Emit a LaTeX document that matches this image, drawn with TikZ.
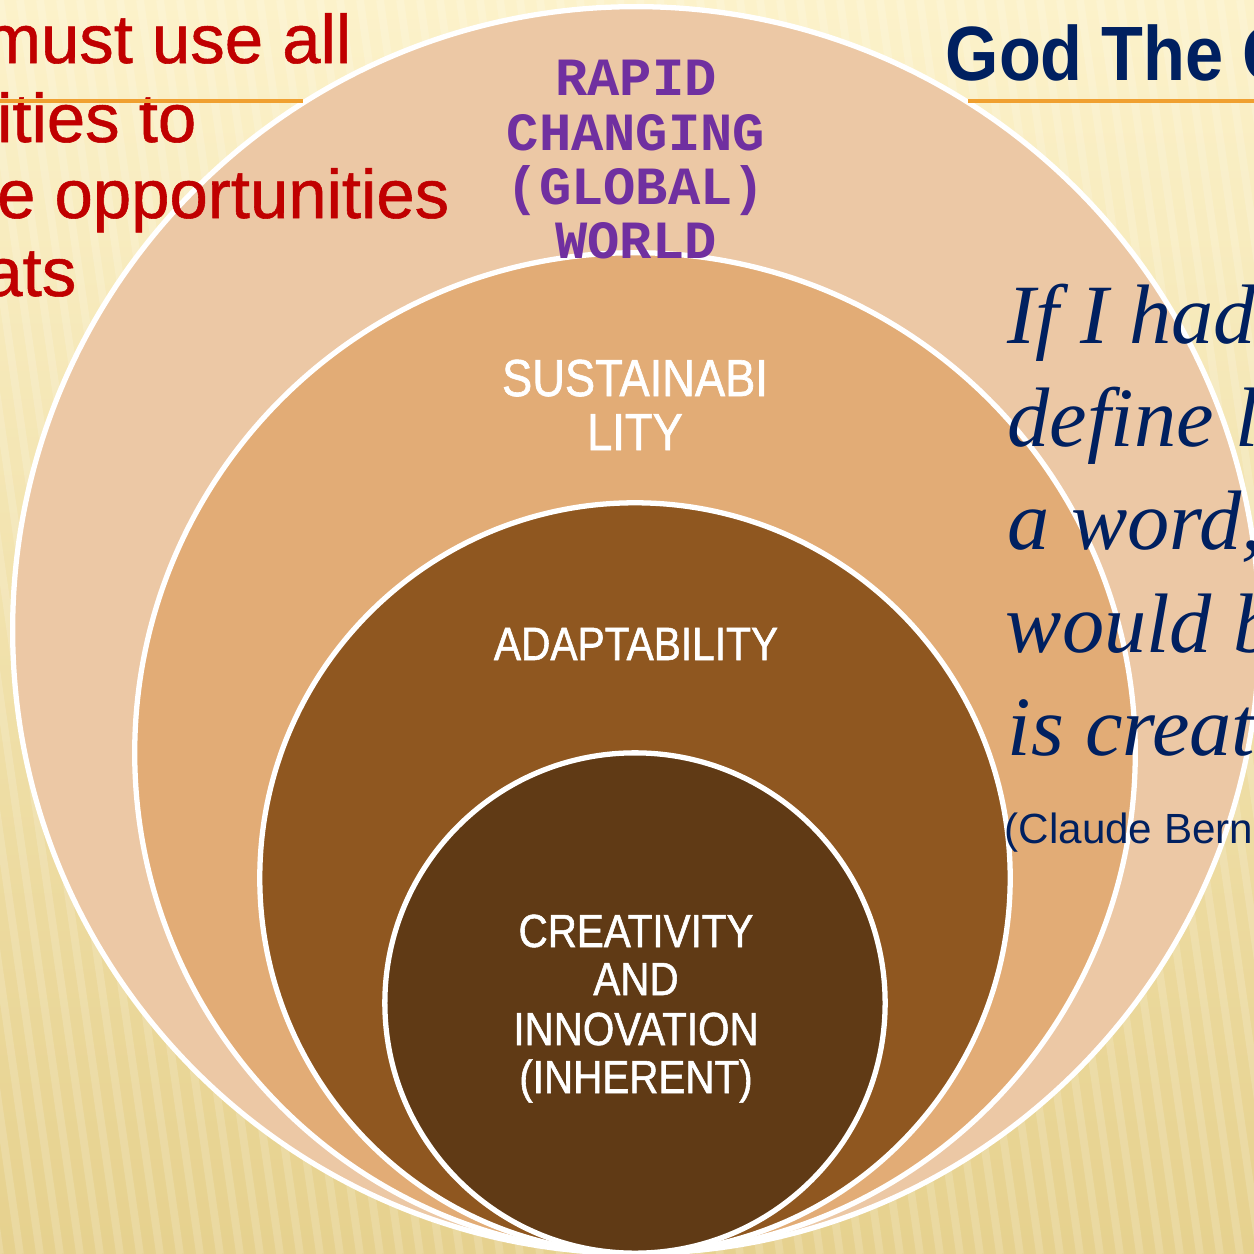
\documentclass[tikz,border=0pt]{standalone}
\usepackage{fontspec}
\setmainfont{Liberation Sans}
\newfontfamily\redfont[FakeBold=0.8]{Liberation Sans}
\newfontfamily\ringfont[FakeStretch=0.87,FakeBold=1.2]{Liberation Sans}
\newfontfamily\titlefont[FakeStretch=0.89]{Liberation Sans}
\newfontfamily\typefont{Liberation Mono}
\newfontfamily\handfont{Liberation Serif}
\usetikzlibrary{positioning}

\definecolor{bgtop}{HTML}{FCF2CA}
\definecolor{bgbot}{HTML}{E6D18E}
\definecolor{worldfill}{HTML}{ECC8A5}
\definecolor{sustfill}{HTML}{E2AC76}
\definecolor{adaptfill}{HTML}{8F5720}
\definecolor{creafill}{HTML}{603A15}
\definecolor{slidered}{HTML}{C00000}
\definecolor{slidenavy}{HTML}{002060}
\definecolor{slideorange}{HTML}{F0A030}
\definecolor{worldpurple}{HTML}{7030A0}

\tikzset{
  ring/.style={circle, draw=white, line width=1.5pt, inner sep=0pt},
  ringlabel/.style={text=white, anchor=base, inner sep=0pt},
  stripe/.style={white, line width=2.2pt, opacity=0.16},
  rule/.style={slideorange, line width=0.9pt},
  redline/.style={text=slidered, anchor=base east, inner sep=0pt,
    font=\redfont\fontsize{19.6pt}{22pt}\selectfont},
  handline/.style={text=slidenavy, anchor=base west, inner sep=0pt,
    font=\handfont\itshape\fontsize{24pt}{29pt}\selectfont}
}

\begin{document}
\begin{tikzpicture}[x=0.01cm, y=-0.01cm]
  \useasboundingbox (0,0) rectangle (1254,1254);
  \clip (0,0) rectangle (1254,1254);
  % background
  \fill[top color=bgtop, bottom color=bgbot] (0,0) rectangle (1254,1254);
  \foreach \s in {-300,-280,...,1300}
    \draw[stripe] (\s,0) -- ++(180,1254);

  % nested circles
  \node[ring, fill=worldfill, minimum size=12.46cm] (world) at (636,630) {};
  \node[ring, fill=sustfill, minimum size=10cm] (sust) at (635,753) {};
  \node[ring, fill=adaptfill, minimum size=7.5cm] (adapt) at (635,878) {};
  \node[ring, fill=creafill, minimum size=5cm] (crea) at (635,1003) {};

  % circle labels
  \foreach \txt/\yy [count=\i] in {RAPID/95, CHANGING/150, {(GLOBAL)}/204, WORLD/258}
    \node[text=worldpurple, anchor=base, inner sep=0pt,
      font=\typefont\bfseries\fontsize{15.3pt}{15.4pt}\selectfont] (world-\i) at (636,\yy) {\txt};
  \foreach \txt/\yy [count=\i] in {SUSTAINABI/396, LITY/450}
    \node[ringlabel, font=\ringfont\fontsize{14.8pt}{15.4pt}\selectfont] (sust-\i) at (635,\yy) {\txt};
  \node[ringlabel, font=\ringfont\fontsize{13.3pt}{14pt}\selectfont] (adapt-1) at (636,660) {ADAPTABILITY};
  \foreach \txt/\yy [count=\i] in {CREATIVITY/947, AND/995, INNOVATION/1045, {(INHERENT)}/1093}
    \node[ringlabel, font=\ringfont\fontsize{13.2pt}{14pt}\selectfont] (crea-\i) at (636,\yy) {\txt};

  % slide text, left
  \node[redline] (red-1) at (352,63) {must use all};
  \node[redline] (red-2) at (197,142) {ities to};
  \node[redline] (red-3) at (450,218) {e opportunities};
  \node[redline] (red-4) at (77,296) {ats};
  \draw[rule] (0,101) -- (303,101);

  % slide text, right
  \node[text=slidenavy, anchor=base west, inner sep=0pt,
    font=\titlefont\bfseries\fontsize{21.9pt}{24pt}\selectfont] (title) at (945,80) {God The C};
  \draw[rule] (968,101) -- (1254,101);
  \node[handline] (quote-1) at (1007,343) {If I had};
  \node[handline] (quote-2) at (1007,446) {define l};
  \node[handline] (quote-3) at (1007,549) {a word,};
  \node[handline] (quote-4) at (1005,652) {would b};
  \node[handline] (quote-5) at (1007,755) {is creat};
  \node[text=slidenavy, anchor=base west, inner sep=0pt,
    font=\fontsize{12pt}{14pt}\selectfont] (claude) at (1004,843) {(Claude Bern};
\end{tikzpicture}
\end{document}
